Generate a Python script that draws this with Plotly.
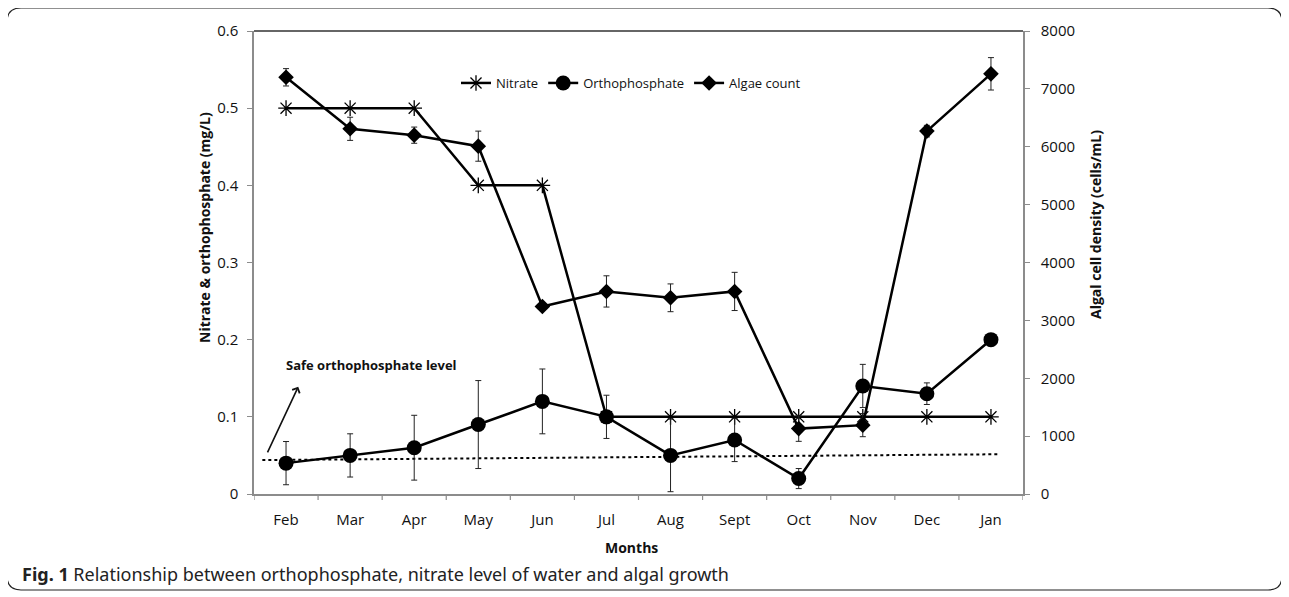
import plotly.graph_objects as go

months = ["Feb", "Mar", "Apr", "May", "Jun", "Jul", "Aug", "Sept", "Oct", "Nov", "Dec", "Jan"]
nitrate = [0.5, 0.5, 0.5, 0.4, 0.4, 0.1, 0.1, 0.1, 0.1, 0.1, 0.1, 0.1]
ortho = [0.04, 0.05, 0.06, 0.09, 0.12, 0.10, 0.05, 0.07, 0.02, 0.14, 0.13, 0.20]
ortho_err = [0.028, 0.028, 0.042, 0.057, 0.042, 0.028, 0.047, 0.028, 0.013, 0.028, 0.014, 0.0]
algae = [7200, 6310, 6200, 6010, 3240, 3500, 3390, 3500, 1130, 1190, 6270, 7260]
algae_err = [150, 200, 140, 260, 60, 270, 240, 330, 220, 200, 100, 280]
safe_x = [-0.37, 11.1]
safe_y = [0.044, 0.0515]

x = list(range(len(months)))

# page body has an 8px margin; positions below are screen pixels
OFF = 8
W, H = 1289, 597
L, R, T, B = 254 - OFF, 1023 - OFF, 31 - OFF, 494 - OFF
def px(v):
    return (v - OFF - L) / (R - L)
def py(v):
    return (B - (v - OFF)) / (B - T)

fig = go.Figure()
fig.add_trace(go.Scatter(
    x=safe_x, y=safe_y, mode="lines", showlegend=False,
    line=dict(color="black", width=2, dash="dot"), hoverinfo="skip"))
fig.add_trace(go.Scatter(
    x=x, y=nitrate, name="Nitrate", mode="lines+markers",
    line=dict(color="black", width=2.5),
    marker=dict(symbol="asterisk-open", size=13, color="black", line=dict(width=1.3, color="black"))))
fig.add_trace(go.Scatter(
    x=x, y=ortho, name="Orthophosphate", mode="lines+markers",
    line=dict(color="black", width=2.5),
    marker=dict(symbol="circle", size=15, color="black"),
    error_y=dict(type="data", array=ortho_err, color="#222", thickness=1, width=3)))
fig.add_trace(go.Scatter(
    x=x, y=algae, name="Algae count", mode="lines+markers", yaxis="y2",
    line=dict(color="black", width=2.5),
    marker=dict(symbol="diamond", size=12, color="black"),
    error_y=dict(type="data", array=algae_err, color="#222", thickness=1, width=3)))

tickfont = dict(family="Open Sans", size=15, color="#111")
titlefont = dict(family="Open Sans", size=14, color="#111")

fig.update_layout(
    width=W, height=H,
    margin=dict(l=L, r=W - R, t=T, b=H - B, autoexpand=False),
    paper_bgcolor="white", plot_bgcolor="white",
    showlegend=True,
    legend=dict(orientation="h", x=px(456), y=py(83), xanchor="left", yanchor="middle",
                font=dict(family="Open Sans", size=13, color="#111"),
                bgcolor="rgba(0,0,0,0)", itemwidth=30, tracegroupgap=0),
    xaxis=dict(range=[-0.5, 11.5], tickmode="array", tickvals=x, ticktext=months,
               showgrid=False, zeroline=False, showline=True, linecolor="#8c8c8c", linewidth=1.5,
               ticks="", tickfont=tickfont, ticklabelstandoff=11),
    yaxis=dict(range=[0, 0.6], dtick=0.1, showgrid=False, zeroline=False, showline=True,
               linecolor="#8c8c8c", linewidth=1.5, ticks="outside", ticklen=5, tickcolor="#8c8c8c",
               tickfont=tickfont, ticklabelstandoff=6),
    yaxis2=dict(range=[0, 8000], dtick=1000, overlaying="y", side="right", showgrid=False,
                zeroline=False, showline=True, linecolor="#8c8c8c", linewidth=1.5,
                ticks="outside", ticklen=5, tickcolor="#8c8c8c", tickfont=tickfont,
                ticklabelstandoff=8),
)

# axis titles (placed as in the reference)
fig.add_annotation(xref="paper", yref="paper", x=px(631), y=py(547), text="<b>Months</b>",
                   showarrow=False, font=titlefont, xanchor="center", yanchor="middle")
fig.add_annotation(xref="paper", yref="paper", x=px(205), y=py(228), textangle=-90,
                   text="<b>Nitrate &amp; orthophosphate (mg/L)</b>",
                   showarrow=False, font=titlefont, xanchor="center", yanchor="middle")
fig.add_annotation(xref="paper", yref="paper", x=px(1095), y=py(225), textangle=-90,
                   text="<b>Algal cell density (cells/mL)</b>",
                   showarrow=False, font=titlefont, xanchor="center", yanchor="middle")

# x-axis ticks on category boundaries
for i in range(13):
    fig.add_shape(type="line", xref="x", yref="paper", x0=i - 0.5, x1=i - 0.5,
                  y0=0, y1=py(494 + 6), line=dict(color="#8c8c8c", width=1.2))

# top border of plot area
fig.add_shape(type="line", xref="paper", yref="paper", x0=0, x1=1, y0=1, y1=1,
              line=dict(color="#333", width=1.5))

# rounded figure frame
x0, x1, y0, y1, r = px(7), px(1282), py(590), py(8), 14
rx, ry = r / (R - L), r / (B - T)
path = (f"M {x0+rx},{y1} L {x1-rx},{y1} Q {x1},{y1} {x1},{y1-ry} "
        f"L {x1},{y0+ry} Q {x1},{y0} {x1-rx},{y0} L {x0+rx},{y0} "
        f"Q {x0},{y0} {x0},{y0+ry} L {x0},{y1-ry} Q {x0},{y1} {x0+rx},{y1} Z")
fig.add_shape(type="path", xref="paper", yref="paper", path=path,
              line=dict(color="#222", width=1.2))

# safe level annotation + arrow
fig.add_annotation(x=1.33, y=0.167, xref="x", yref="y", text="<b>Safe orthophosphate level</b>",
                   showarrow=False, font=dict(family="Open Sans", size=13, color="#111"))
fig.add_annotation(x=0.19, y=0.139, ax=-0.3, ay=0.052, xref="x", yref="y", axref="x", ayref="y",
                   text="", showarrow=True, arrowhead=4, arrowsize=1, arrowwidth=1.6, arrowcolor="#111")

# caption
fig.add_annotation(xref="paper", yref="paper", x=px(20), y=py(574), xanchor="left", yanchor="middle",
                   text="<b>Fig. 1</b> Relationship between orthophosphate, nitrate level of water and algal growth",
                   showarrow=False, font=dict(family="Noto Sans", size=18, color="#222"))

fig.write_html("out.html")
